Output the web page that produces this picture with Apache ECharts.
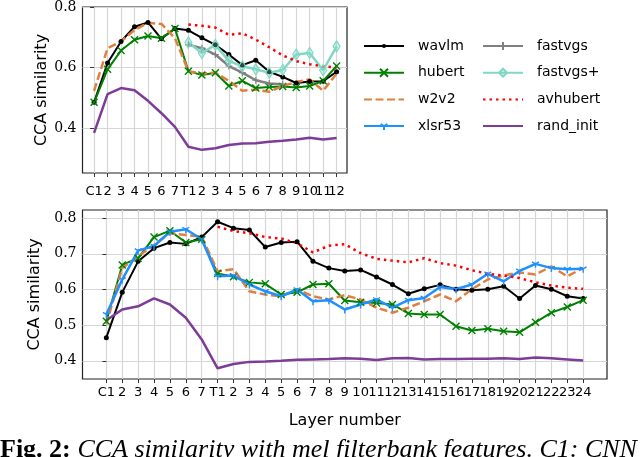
<!DOCTYPE html>
<html>
<head>
<meta charset="utf-8">
<script src="https://cdn.jsdelivr.net/npm/echarts@6/dist/echarts.min.js"></script>
<style>
html, body { margin: 0; padding: 0; background: #fff; }
#chart { width: 640px; height: 457px; }
</style>
</head>
<body>
<div id="chart"></div>
<script>
// x tick labels
var topLabels = ['C1', '2', '3', '4', '5', '6', '7', 'T1', '2', '3', '4', '5', '6', '7', '8', '9', '10', '11', '12'];
var bottomLabels = ['C1', '2', '3', '4', '5', '6', '7', 'T1', '2', '3', '4', '5', '6', '7', '8', '9', '10', '11', '12',
    '13', '14', '15', '16', '17', '18', '19', '20', '21', '22', '23', '24'];
var topYTicks = [0.4, 0.6, 0.8];
var bottomYTicks = [0.4, 0.5, 0.6, 0.7, 0.8];

// base models (top panel)
var wavlmBase = [0.485, 0.615, 0.686, 0.735, 0.749, 0.695, 0.729, 0.723, 0.698, 0.675, 0.643, 0.608, 0.624, 0.586, 0.569, 0.549, 0.554, 0.555, 0.586];
var hubertBase = [0.485, 0.594, 0.656, 0.692, 0.704, 0.697, 0.729, 0.588, 0.575, 0.583, 0.539, 0.556, 0.532, 0.536, 0.537, 0.534, 0.539, 0.556, 0.605];
var w2v2Base = [0.523, 0.664, 0.686, 0.724, 0.748, 0.744, 0.697, 0.588, 0.58, 0.583, 0.556, 0.523, 0.527, 0.52, 0.539, 0.552, 0.561, 0.523, 0.58];
var fastvgsBase = [0.675, 0.664, 0.643, 0.605, 0.583, 0.558, 0.547, 0.545];               // from T1
var fastvgsPlusBase = [0.683, 0.648, 0.675, 0.622, 0.604, 0.594, 0.583, 0.592, 0.643, 0.648, 0.591, 0.67]; // from T1
var avhubertBase = [0.742, 0.738, 0.732, 0.708, 0.713, 0.692, 0.667, 0.64, 0.621, 0.611, 0.604, 0.6];      // from T1
var randBase = [0.384, 0.512, 0.532, 0.525, 0.49, 0.449, 0.404, 0.338, 0.328, 0.333, 0.344, 0.349, 0.35, 0.355, 0.358, 0.362, 0.368, 0.362, 0.367];

// large models (bottom panel)
var wavlmLarge = [0.465, 0.592, 0.679, 0.716, 0.732, 0.728, 0.747, 0.790, 0.772, 0.767, 0.719, 0.732, 0.734, 0.679, 0.66, 0.652,
    0.655, 0.635, 0.614, 0.588, 0.602, 0.613, 0.601, 0.598, 0.601, 0.609, 0.575, 0.611, 0.601, 0.581, 0.575];
var hubertLarge = [0.511, 0.669, 0.688, 0.747, 0.765, 0.732, 0.741, 0.645, 0.636, 0.62, 0.616, 0.586, 0.592, 0.614, 0.616, 0.569,
    0.564, 0.562, 0.558, 0.533, 0.53, 0.53, 0.497, 0.485, 0.49, 0.483, 0.48, 0.508, 0.535, 0.551, 0.57];
var w2v2Large = [0.502, 0.66, 0.693, 0.725, 0.758, 0.753, 0.748, 0.651, 0.657, 0.595, 0.586, 0.581, 0.6, 0.581, 0.572, 0.584,
    0.572, 0.549, 0.535, 0.549, 0.567, 0.586, 0.567, 0.601, 0.628, 0.639, 0.648, 0.642, 0.665, 0.637, 0.66];
var xlsrLarge = [0.53, 0.628, 0.709, 0.722, 0.762, 0.769, 0.741, 0.637, 0.639, 0.614, 0.595, 0.581, 0.6, 0.567, 0.57, 0.544,
    0.558, 0.572, 0.549, 0.57, 0.576, 0.607, 0.601, 0.614, 0.644, 0.623, 0.652, 0.672, 0.66, 0.657, 0.658];
var avhubertLarge = [0.776, 0.764, 0.758, 0.747, 0.743, 0.73, 0.704, 0.723, 0.727, 0.702, 0.686, 0.681, 0.676, 0.688, 0.674,
    0.667, 0.654, 0.644, 0.639, 0.632, 0.62, 0.611, 0.605, 0.602]; // from T1
var randLarge = [0.514, 0.544, 0.553, 0.575, 0.558, 0.521, 0.46, 0.379, 0.391, 0.397, 0.398, 0.4, 0.403, 0.404, 0.405, 0.407,
    0.406, 0.402, 0.407, 0.408, 0.404, 0.405, 0.405, 0.406, 0.406, 0.407, 0.405, 0.409, 0.407, 0.404, 0.401];

var legendLeft = ['wavlm', 'hubert', 'w2v2', 'xlsr53'];
var legendRight = ['fastvgs', 'fastvgs+', 'avhubert', 'rand_init'];

// marker shapes
var NOSYM = 'path://M0,0L2,2';
var DOT = 'path://M-2,-2M2,2M-1,0A1,1,0,1,1,1,0A1,1,0,1,1,-1,0Z';
var CROSS = 'path://M0,0L8,8M8,0L0,8';
var TRI = 'path://M0,0M8,8M4,4L4,8M4,4L0.54,2M4,4L7.46,2';
var PLUS = 'path://M4,0L4,8M0,4L8,4';
var THIN_DIAMOND = 'path://M2.5,0L5,4L2.5,8L0,4Z';

var look = {
    'wavlm':     { color: '#000000', symbol: DOT, size: 10, type: 'solid', width: 2 },
    'hubert':    { color: '#008000', symbol: CROSS, size: 7, type: 'solid', width: 2, border: 1.4 },
    'w2v2':      { color: '#e0803f', symbol: NOSYM, size: 1, type: [8, 3.5], width: 2.5 },
    'xlsr53':    { color: '#1e90ff', symbol: TRI, size: 8, type: 'solid', width: 2.5, border: 1.4 },
    'fastvgs':   { color: '#808080', symbol: PLUS, size: 7, type: 'solid', width: 2.5, border: 1.2 },
    'fastvgs+':  { color: '#7fd8c6', symbol: THIN_DIAMOND, size: [7, 11], type: 'solid', width: 2.5, border: 1.2, fill: 'rgba(127,216,198,0.35)' },
    'avhubert':  { color: '#ff0000', symbol: NOSYM, size: 1, type: [2.5, 4], width: 2.5 },
    'rand_init': { color: '#7d3c98', symbol: NOSYM, size: 1, type: 'solid', width: 2.5 }
};

function pts(vals, start) {
    return vals.map(function (v, k) { return [start + k, v]; });
}

// grid 0 uses xAxis 0 (odd-label axis 1); grid 1 uses xAxis 2 (odd-label axis 3)
function mk(name, grid, vals, start) {
    var s = look[name];
    return {
        name: name,
        type: 'line',
        xAxisIndex: grid * 2,
        yAxisIndex: grid,
        data: pts(vals, start),
        color: s.color,
        symbol: s.symbol,
        symbolSize: s.size,
        showSymbol: s.symbol !== NOSYM,
        lineStyle: { color: s.color, width: s.width, type: s.type, cap: 'butt' },
        itemStyle: { color: s.fill || s.color, borderColor: s.color, borderWidth: s.border || 0 },
        emphasis: { disabled: true },
        animation: false
    };
}

var series = [
    mk('wavlm', 0, wavlmBase, 0),
    mk('hubert', 0, hubertBase, 0),
    mk('w2v2', 0, w2v2Base, 0),
    mk('fastvgs', 0, fastvgsBase, 7),
    mk('fastvgs+', 0, fastvgsPlusBase, 7),
    mk('avhubert', 0, avhubertBase, 7),
    mk('rand_init', 0, randBase, 0),
    mk('wavlm', 1, wavlmLarge, 0),
    mk('hubert', 1, hubertLarge, 0),
    mk('w2v2', 1, w2v2Large, 0),
    mk('xlsr53', 1, xlsrLarge, 0),
    mk('avhubert', 1, avhubertLarge, 7),
    mk('rand_init', 1, randLarge, 0)
];

// Labels are split over two stacked axes (even / odd positions) so crowded
// neighbours are never dropped by the min/max overlap check.
function xAxisFor(grid, labels, lo, hi, gap, parity) {
    var all = labels.map(function (_, i) { return i; });
    var mine = all.filter(function (i) { return i % 2 === parity; });
    var main = parity === 0;
    return {
        type: 'value', gridIndex: grid, min: lo, max: hi, position: 'bottom', offset: 0,
        axisLine: { show: false },
        axisTick: { show: main, customValues: all, length: 4, lineStyle: { color: '#333', width: 1 } },
        axisLabel: {
            customValues: mine, margin: gap, color: '#000', fontSize: 13, fontFamily: 'DejaVu Sans',
            showMinLabel: true, showMaxLabel: true, hideOverlap: false,
            formatter: function (v) { return labels[Math.round(v)]; }
        },
        splitLine: { show: main, lineStyle: { color: '#d6d6d6', width: 1.2 } }
    };
}

function yAxisFor(grid, ticks, lo, hi) {
    return {
        type: 'value', gridIndex: grid, min: lo, max: hi,
        name: 'CCA similarity', nameLocation: 'middle', nameGap: 33,
        nameTextStyle: { fontSize: 16, fontFamily: 'DejaVu Sans', color: '#000' },
        axisLine: { show: false },
        axisTick: { show: true, customValues: ticks, length: 4, lineStyle: { color: '#333', width: 1 } },
        axisLabel: {
            customValues: ticks, margin: 6, color: '#000', fontSize: 14, fontFamily: 'DejaVu Serif',
            showMinLabel: true, showMaxLabel: true,
            formatter: function (v) { return v.toFixed(1); }
        },
        splitLine: { show: true, lineStyle: { color: '#d6d6d6', width: 1.2 } }
    };
}

function legendFor(names, left) {
    return {
        data: names, orient: 'vertical', left: left, top: 39, padding: 0,
        itemWidth: 40, itemHeight: 10, itemGap: 12.7, selectedMode: false,
        textStyle: { fontSize: 14, lineHeight: 14, fontFamily: 'DejaVu Sans', color: '#000', padding: [0, 0, 0, 9] }
    };
}

var chart = echarts.init(document.getElementById('chart'), null, { renderer: 'canvas' });
chart.setOption({
    backgroundColor: '#fff',
    animation: false,
    grid: [
        { left: 82.5, top: 5, width: 264.5, height: 168, show: true, borderColor: '#222', borderWidth: 1.2, backgroundColor: 'transparent' },
        { left: 82.5, top: 210, width: 524.5, height: 169, show: true, borderColor: '#222', borderWidth: 1.2, backgroundColor: 'transparent' }
    ],
    xAxis: [
        xAxisFor(0, topLabels, -0.86, 18.77, 12, 0),
        xAxisFor(0, topLabels, -0.86, 18.77, 12, 1),
        Object.assign(xAxisFor(1, bottomLabels, -1.5, 31.5, 7, 0), {
            name: 'Layer number', nameLocation: 'middle', nameGap: 34,
            nameTextStyle: { fontSize: 16, fontFamily: 'DejaVu Sans', color: '#000' }
        }),
        xAxisFor(1, bottomLabels, -1.5, 31.5, 7, 1)
    ],
    yAxis: [
        yAxisFor(0, topYTicks, 0.2515, 0.8),
        yAxisFor(1, bottomYTicks, 0.349, 0.823)
    ],
    legend: [legendFor(legendLeft, 363), legendFor(legendRight, 482)],
    graphic: [{
        type: 'text', left: 0, top: 437,
        style: {
            text: '{b|Fig. 2:}  {i|CCA similarity with mel filterbank features. C1: CNN layer 1}',
            rich: {
                b: { fontFamily: 'Liberation Serif', fontWeight: 'bold', fontSize: 26, fill: '#000' },
                i: { fontFamily: 'Liberation Serif', fontStyle: 'italic', fontSize: 26, fill: '#000' }
            }
        }
    }],
    series: series
});
</script>
</body>
</html>
